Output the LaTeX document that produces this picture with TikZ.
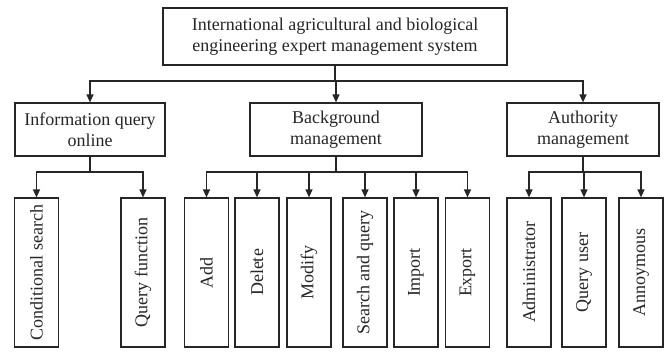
\documentclass[tikz,border=0pt]{standalone}
\usepackage{fontspec}
\setmainfont{Liberation Serif}
\usetikzlibrary{arrows.meta}
\begin{document}
\begin{tikzpicture}[x=1pt,y=-1pt,
  box/.style={draw=black!85,line width=1.2pt,inner sep=0pt,align=center,text=black!85,font=\fontsize{18}{21}\selectfont},
  topbox/.style={box,minimum width=344pt,minimum height=57pt},
  midbox/.style={box,minimum height=53pt},
  leafbox/.style={box,minimum width=44pt,minimum height=149pt},
  leaftext/.style={rotate=90,inner sep=0pt,text=black!85,font=\fontsize{18}{21}\selectfont},
  conn/.style={draw=black!85,line width=1.2pt},
  arr/.style={conn,-{Triangle[width=7pt,length=8pt]}}]
\useasboundingbox (0,0) rectangle (667,351);
\node[topbox] (top) at (335,36.5) {International agricultural and biological\\engineering expert management system};
\node[midbox,minimum width=150pt] (info) at (90,129.5) {Information query\\online};
\node[midbox,minimum width=172pt] (bg) at (336,129.5) {Background\\management};
\node[midbox,minimum width=152pt] (auth) at (583,129.5) {Authority\\management};
\foreach \n/\x/\t in {cond/36.5/Conditional search, qf/143/Query function, add/206.5/Add, del/257/Delete, mod/309/Modify, sq/365/Search and query, imp/416/Import, exp/467.5/Export, admin/529/Administrator, qu/584/Query user, ann/641/Annoymous}{
  \node[leafbox] (\n) at (\x,272.5) {};
  \node[leaftext] (\n-t) at (\n.center) {\t};
}
\coordinate (b1) at (335,81);
\draw[conn] (top.south) -- (b1);
\draw[arr] (b1) -| (info.north);
\draw[arr] (b1) -| (bg.north);
\draw[arr] (b1) -| (auth.north);
\coordinate (b2) at (90,172);
\draw[conn] (info.south) -- (b2);
\draw[arr] (b2) -| (cond.north);
\draw[arr] (b2) -| (qf.north);
\coordinate (b3) at (336,172);
\draw[conn] (bg.south) -- (b3);
\foreach \n in {add,del,mod,sq,imp,exp}{\draw[arr] (b3) -| (\n.north);}
\coordinate (b4) at (583,172);
\draw[conn] (auth.south) -- (b4);
\foreach \n in {admin,qu,ann}{\draw[arr] (b4) -| (\n.north);}
\end{tikzpicture}
\end{document}
